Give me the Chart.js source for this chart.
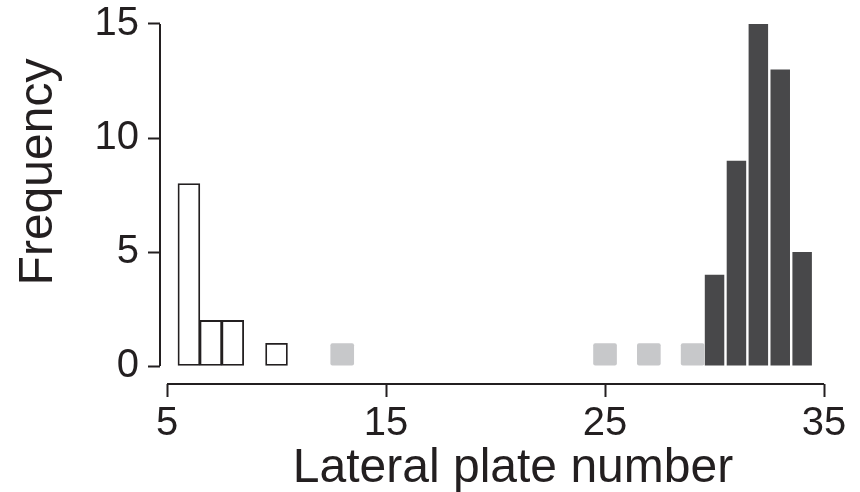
<!DOCTYPE html>
<html>
<head>
<meta charset="utf-8">
<script src="https://cdn.jsdelivr.net/npm/chart.js@4"></script>
<style>
  html, body { margin: 0; padding: 0; background: #fff; }
  #wrap { width: 860px; height: 492px; }
</style>
</head>
<body>
<div id="wrap"><canvas id="histo" width="860" height="492"></canvas></div>
<script>
// lateral plate counts, split by morph
const lowPlates = [6, 7, 8, 10];
const lowFreq = [8, 2, 2, 1];
const partialPlates = [13, 25, 27, 29];
const partialFreq = [1, 1, 1, 1];
const completePlates = [30, 31, 32, 33, 34];
const completeFreq = [4, 9, 15, 13, 5];

const xTicks = [5, 15, 25, 35];
const yTicks = [0, 5, 10, 15];

const ink = '#231f20';
const fontFam = '"Liberation Sans", Arial, Helvetica, sans-serif';

function toPoints(xs, ys) {
    return xs.map((x, i) => ({ x: x, y: ys[i] }));
}

// R style detached axes + axis titles
const axesPlugin = {
    id: 'rAxes',
    afterDraw(chart) {
        const ctx = chart.ctx;
        const x = chart.scales.x;
        const y = chart.scales.y;
        const area = chart.chartArea;
        ctx.save();
        ctx.strokeStyle = ink;
        ctx.lineWidth = 2;
        ctx.beginPath();
        ctx.moveTo(area.left, y.getPixelForValue(yTicks[0]));
        ctx.lineTo(area.left, y.getPixelForValue(yTicks[yTicks.length - 1]));
        ctx.moveTo(x.getPixelForValue(xTicks[0]), area.bottom);
        ctx.lineTo(x.getPixelForValue(xTicks[xTicks.length - 1]), area.bottom);
        ctx.stroke();

        ctx.fillStyle = ink;
        ctx.font = '48px ' + fontFam;
        ctx.textAlign = 'center';
        ctx.textBaseline = 'alphabetic';
        ctx.fillText('Lateral plate number', 513, 482);

        ctx.translate(52, 172);
        ctx.rotate(-Math.PI / 2);
        ctx.fillText('Frequency', 0, 0);
        ctx.restore();
    }
};

new Chart(document.getElementById('histo'), {
    type: 'bar',
    data: {
        datasets: [{
            data: toPoints(lowPlates, lowFreq),
            backgroundColor: '#ffffff',
            borderColor: ink,
            borderWidth: 1.8,
            borderSkipped: false,
            barPercentage: 1,
            categoryPercentage: 1,
            grouped: false
        }, {
            data: toPoints(partialPlates, partialFreq),
            backgroundColor: '#c7c8ca',
            borderWidth: 0,
            borderRadius: 2,
            borderSkipped: false,
            barPercentage: 1.08,
            categoryPercentage: 1,
            grouped: false
        }, {
            data: toPoints(completePlates, completeFreq),
            backgroundColor: '#48484a',
            borderWidth: 0,
            barPercentage: 0.89,
            categoryPercentage: 1,
            grouped: false
        }]
    },
    options: {
        responsive: false,
        animation: false,
        layout: { padding: { top: 17, right: 25, left: 0, bottom: 0 } },
        plugins: {
            legend: { display: false },
            tooltip: { enabled: false }
        },
        scales: {
            x: {
                type: 'linear',
                offset: false,
                min: 4.68,
                max: 35.5,
                afterBuildTicks: (s) => { s.ticks = xTicks.map(v => ({ value: v })); },
                afterFit: (s) => { s.height = 108; s.paddingLeft = 0; s.paddingRight = 0; },
                grid: { offset: false, drawOnChartArea: false, drawTicks: true, tickLength: 13, tickWidth: 2, tickColor: ink },
                border: { display: false },
                ticks: {
                    color: ink,
                    padding: 3,
                    maxRotation: 0,
                    autoSkip: false,
                    font: { family: fontFam, size: 40 }
                }
            },
            y: {
                min: -0.789,
                max: 15.307,
                afterBuildTicks: (s) => { s.ticks = yTicks.map(v => ({ value: v })); },
                afterFit: (s) => { s.width = 160; s.paddingTop = 0; s.paddingBottom = 0; },
                grid: { drawOnChartArea: false, drawTicks: true, tickLength: 12, tickWidth: 2, tickColor: ink },
                border: { display: false },
                ticks: {
                    color: ink,
                    padding: 9,
                    autoSkip: false,
                    font: { family: fontFam, size: 40 }
                }
            }
        }
    },
    plugins: [axesPlugin]
});
</script>
</body>
</html>
